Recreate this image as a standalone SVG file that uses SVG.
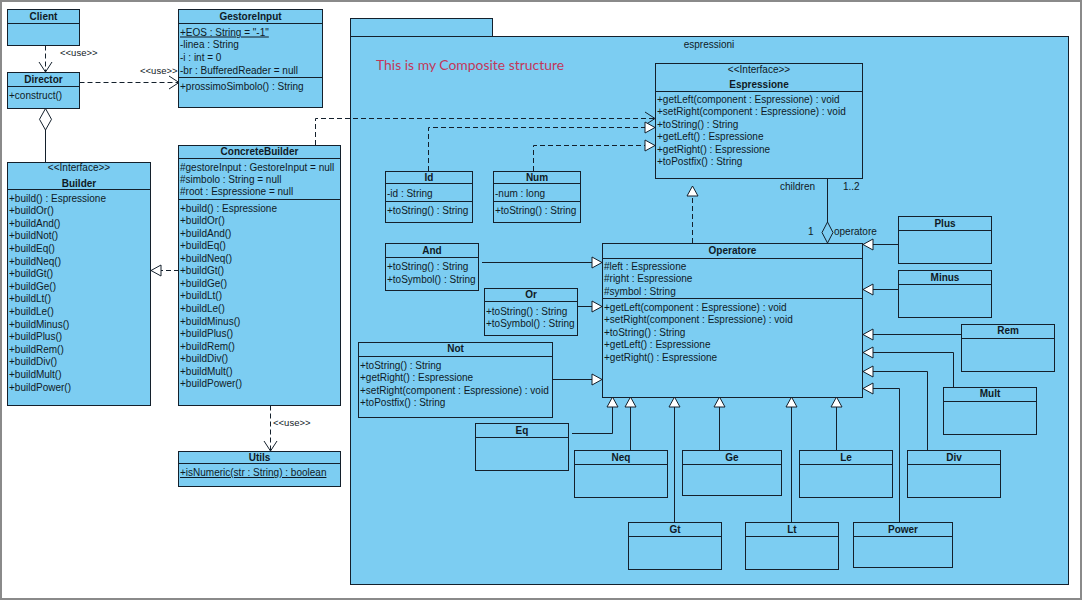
<svg xmlns="http://www.w3.org/2000/svg" width="1082" height="600" viewBox="0 0 1082 600">
<defs>
<style>
.box{fill:#7ccdf2;stroke:#14202c;stroke-width:1}
.ln{stroke:#14202c;stroke-width:1;fill:none}
.dash{stroke-dasharray:5 3}
.t{font-family:"Liberation Sans",Arial,sans-serif;font-size:10px;fill:#0f1a26}
.b{font-weight:bold;text-anchor:middle}
.c{text-anchor:middle}
.u{text-decoration:underline}
</style>
<marker id="tri" markerUnits="userSpaceOnUse" markerWidth="14" markerHeight="14" refX="11" refY="6.5" orient="auto">
<path d="M1,1 L11,6.5 L1,12 Z" fill="#ffffff" stroke="#14202c" stroke-width="1"/>
</marker>
<marker id="open" markerUnits="userSpaceOnUse" markerWidth="14" markerHeight="16" refX="11" refY="7.5" orient="auto">
<path d="M1,1 L11,7.5 L1,14" fill="none" stroke="#14202c" stroke-width="1"/>
</marker>
</defs>
<rect x="1" y="1" width="1080" height="598" fill="#ffffff" stroke="#8a8a8a" stroke-width="2"/>

<g id="pkg-espressioni">
<rect class="box" x="350.5" y="18.5" width="142" height="18"/>
<rect class="box" x="350.5" y="36.5" width="718" height="548"/>
<text class="t c" x="709" y="47.5">espressioni</text>
<text x="376" y="70" textLength="188" lengthAdjust="spacingAndGlyphs" style="font-family:Lato,'Open Sans',sans-serif;font-size:14px;fill:#c2375a">This is my Composite structure</text>
</g>

<g id="connectors">
<path class="ln dash" d="M45.5,45.5 V72" marker-end="url(#open)"/>
<text class="t" x="60" y="55.5" style="font-size:9.5px">&lt;&lt;use&gt;&gt;</text>
<path class="ln dash" d="M79.5,82.5 H179" marker-end="url(#open)"/>
<text class="t" x="140" y="74" style="font-size:9.5px">&lt;&lt;use&gt;&gt;</text>
<path class="ln" d="M45.5,130 V162"/>
<polygon points="45.5,108.5 51.5,119.3 45.5,130 39.5,119.3" fill="#ffffff" stroke="#14202c"/>
<path class="ln dash" d="M179,270.5 H151" marker-end="url(#tri)"/>
<path class="ln dash" d="M270.5,405.5 V451" marker-end="url(#open)"/>
<text class="t" x="273" y="425.5" style="font-size:9.5px">&lt;&lt;use&gt;&gt;</text>
<path class="ln dash" d="M315.5,145 V118.5 H655" marker-end="url(#open)"/>
<path class="ln dash" d="M428.5,171 V127.5 H655" marker-end="url(#tri)"/>
<path class="ln dash" d="M533.5,171 V145.5 H655" marker-end="url(#tri)"/>
<path class="ln dash" d="M692.5,243 V186" marker-end="url(#tri)"/>
<path class="ln" d="M827.5,178 V222"/>
<polygon points="827.5,222 833,232.5 827.5,243 822,232.5" fill="none" stroke="#14202c"/>
<text class="t" x="780" y="189.5">children</text>
<text class="t" x="843" y="189.5">1..2</text>
<text class="t" x="808" y="235">1</text>
<text class="t" x="834" y="235">operatore</text>
<path class="ln" d="M482,262.5 H602" marker-end="url(#tri)"/>
<path class="ln" d="M578,306.5 H602" marker-end="url(#tri)"/>
<path class="ln" d="M553,379.5 H602" marker-end="url(#tri)"/>
<path class="ln" d="M572,433.5 H612.5 V397" marker-end="url(#tri)"/>
<path class="ln" d="M630.5,450 V397" marker-end="url(#tri)"/>
<path class="ln" d="M674.5,522 V397" marker-end="url(#tri)"/>
<path class="ln" d="M719.5,450 V397" marker-end="url(#tri)"/>
<path class="ln" d="M791.5,522 V397" marker-end="url(#tri)"/>
<path class="ln" d="M836.5,450 V397" marker-end="url(#tri)"/>
<path class="ln" d="M898,244.5 H863" marker-end="url(#tri)"/>
<path class="ln" d="M898,289.5 H863" marker-end="url(#tri)"/>
<path class="ln" d="M961,334.5 H863" marker-end="url(#tri)"/>
<path class="ln" d="M953.5,387 V352.5 H863" marker-end="url(#tri)"/>
<path class="ln" d="M927.5,450 V371.5 H863" marker-end="url(#tri)"/>
<path class="ln" d="M899.5,522 V388.5 H863" marker-end="url(#tri)"/>
</g>

<g id="client">
<rect class="box" x="7.5" y="9.5" width="72" height="36"/>
<line class="ln" x1="7.5" y1="23.5" x2="79.5" y2="23.5"/>
<text class="t b" x="43.5" y="20">Client</text>
</g>

<g id="director">
<rect class="box" x="7.5" y="72.5" width="72" height="36"/>
<line class="ln" x1="7.5" y1="86.5" x2="79.5" y2="86.5"/>
<text class="t b" x="43.5" y="83">Director</text>
<text class="t" x="9" y="99">+construct()</text>
</g>

<g id="gestoreinput">
<rect class="box" x="178.5" y="9.5" width="144" height="98"/>
<line class="ln" x1="178.5" y1="23.5" x2="322.5" y2="23.5"/>
<line class="ln" x1="178.5" y1="77.5" x2="322.5" y2="77.5"/>
<text class="t b" x="250.5" y="20">GestoreInput</text>
<text class="t u" x="180" y="35.5">+EOS : String = "-1"</text>
<text class="t" x="180" y="48">-linea : String</text>
<text class="t" x="180" y="60.5">-i : int = 0</text>
<text class="t" x="180" y="73.5">-br : BufferedReader = null</text>
<text class="t" x="180" y="89.5">+prossimoSimbolo() : String</text>
</g>

<g id="builder">
<rect class="box" x="7.5" y="162.5" width="143" height="243"/>
<line class="ln" x1="7.5" y1="189.5" x2="150.5" y2="189.5"/>
<text class="t c" x="79" y="171">&lt;&lt;Interface&gt;&gt;</text>
<text class="t b" x="79" y="186.5">Builder</text>
<text class="t" x="9" y="201.5"><tspan x="9" dy="0">+build() : Espressione</tspan><tspan x="9" dy="12.6">+buildOr()</tspan><tspan x="9" dy="12.6">+buildAnd()</tspan><tspan x="9" dy="12.6">+buildNot()</tspan><tspan x="9" dy="12.6">+buildEq()</tspan><tspan x="9" dy="12.6">+buildNeq()</tspan><tspan x="9" dy="12.6">+buildGt()</tspan><tspan x="9" dy="12.6">+buildGe()</tspan><tspan x="9" dy="12.6">+buildLt()</tspan><tspan x="9" dy="12.6">+buildLe()</tspan><tspan x="9" dy="12.6">+buildMinus()</tspan><tspan x="9" dy="12.6">+buildPlus()</tspan><tspan x="9" dy="12.6">+buildRem()</tspan><tspan x="9" dy="12.6">+buildDiv()</tspan><tspan x="9" dy="12.6">+buildMult()</tspan><tspan x="9" dy="12.6">+buildPower()</tspan></text>
</g>

<g id="concretebuilder">
<rect class="box" x="178.5" y="145.5" width="162" height="260"/>
<line class="ln" x1="178.5" y1="158.5" x2="340.5" y2="158.5"/>
<line class="ln" x1="178.5" y1="199.5" x2="340.5" y2="199.5"/>
<text class="t b" x="259.5" y="155">ConcreteBuilder</text>
<text class="t" x="180" y="170.5">#gestoreInput : GestoreInput = null</text>
<text class="t" x="180" y="182.5">#simbolo : String = null</text>
<text class="t" x="180" y="195">#root : Espressione = null</text>
<text class="t" x="180" y="211.5"><tspan x="180" dy="0">+build() : Espressione</tspan><tspan x="180" dy="12.57">+buildOr()</tspan><tspan x="180" dy="12.57">+buildAnd()</tspan><tspan x="180" dy="12.57">+buildEq()</tspan><tspan x="180" dy="12.57">+buildNeq()</tspan><tspan x="180" dy="12.57">+buildGt()</tspan><tspan x="180" dy="12.57">+buildGe()</tspan><tspan x="180" dy="12.57">+buildLt()</tspan><tspan x="180" dy="12.57">+buildLe()</tspan><tspan x="180" dy="12.57">+buildMinus()</tspan><tspan x="180" dy="12.57">+buildPlus()</tspan><tspan x="180" dy="12.57">+buildRem()</tspan><tspan x="180" dy="12.57">+buildDiv()</tspan><tspan x="180" dy="12.57">+buildMult()</tspan><tspan x="180" dy="12.57">+buildPower()</tspan></text>
</g>

<g id="utils">
<rect class="box" x="178.5" y="451.5" width="162" height="35"/>
<line class="ln" x1="178.5" y1="463.5" x2="340.5" y2="463.5"/>
<text class="t b" x="259.5" y="461">Utils</text>
<text class="t u" x="180" y="476">+isNumeric(str : String) : boolean</text>
</g>

<g id="espressione">
<rect class="box" x="655.5" y="63.5" width="207" height="115"/>
<line class="ln" x1="655.5" y1="91.5" x2="862.5" y2="91.5"/>
<text class="t c" x="759" y="73">&lt;&lt;Interface&gt;&gt;</text>
<text class="t b" x="759" y="88">Espressione</text>
<text class="t" x="657" y="102.5"><tspan x="657" dy="0">+getLeft(component : Espressione) : void</tspan><tspan x="657" dy="12.5">+setRight(component : Espressione) : void</tspan><tspan x="657" dy="12.5">+toString() : String</tspan><tspan x="657" dy="12.5">+getLeft() : Espressione</tspan><tspan x="657" dy="12.5">+getRight() : Espressione</tspan><tspan x="657" dy="12.5">+toPostfix() : String</tspan></text>
</g>

<g id="id">
<rect class="box" x="385.5" y="171.5" width="87" height="51"/>
<line class="ln" x1="385.5" y1="183.5" x2="472.5" y2="183.5"/>
<line class="ln" x1="385.5" y1="201.5" x2="472.5" y2="201.5"/>
<text class="t b" x="429" y="181">Id</text>
<text class="t" x="387" y="196.5">-id : String</text>
<text class="t" x="387" y="213.5">+toString() : String</text>
</g>

<g id="num">
<rect class="box" x="493.5" y="171.5" width="87" height="51"/>
<line class="ln" x1="493.5" y1="183.5" x2="580.5" y2="183.5"/>
<line class="ln" x1="493.5" y1="201.5" x2="580.5" y2="201.5"/>
<text class="t b" x="537" y="181">Num</text>
<text class="t" x="495" y="196.5">-num : long</text>
<text class="t" x="495" y="213.5">+toString() : String</text>
</g>

<g id="operatore">
<rect class="box" x="602.5" y="243.5" width="260" height="154"/>
<line class="ln" x1="602.5" y1="258.5" x2="862.5" y2="258.5"/>
<line class="ln" x1="602.5" y1="298.5" x2="862.5" y2="298.5"/>
<text class="t b" x="732.5" y="254">Operatore</text>
<text class="t" x="604" y="269.5">#left : Espressione</text>
<text class="t" x="604" y="282">#right : Espressione</text>
<text class="t" x="604" y="294.5">#symbol : String</text>
<text class="t" x="604" y="310.5"><tspan x="604" dy="0">+getLeft(component : Espressione) : void</tspan><tspan x="604" dy="12.6">+setRight(component : Espressione) : void</tspan><tspan x="604" dy="12.6">+toString() : String</tspan><tspan x="604" dy="12.6">+getLeft() : Espressione</tspan><tspan x="604" dy="12.6">+getRight() : Espressione</tspan></text>
</g>

<g id="and">
<rect class="box" x="385.5" y="243.5" width="93" height="47"/>
<line class="ln" x1="385.5" y1="257.5" x2="478.5" y2="257.5"/>
<text class="t b" x="432" y="253.5">And</text>
<text class="t" x="387" y="269.5">+toString() : String</text>
<text class="t" x="387" y="282.5">+toSymbol() : String</text>
</g>

<g id="or">
<rect class="box" x="484.5" y="288.5" width="93" height="47"/>
<line class="ln" x1="484.5" y1="301.5" x2="577.5" y2="301.5"/>
<text class="t b" x="531" y="297.5">Or</text>
<text class="t" x="486" y="314.5">+toString() : String</text>
<text class="t" x="486" y="327">+toSymbol() : String</text>
</g>

<g id="not">
<rect class="box" x="358.5" y="342.5" width="194" height="75"/>
<line class="ln" x1="358.5" y1="356.5" x2="552.5" y2="356.5"/>
<text class="t b" x="455.5" y="352">Not</text>
<text class="t" x="360" y="368.5">+toString() : String</text>
<text class="t" x="360" y="381">+getRight() : Espressione</text>
<text class="t" x="360" y="393.5">+setRight(component : Espressione) : void</text>
<text class="t" x="360" y="406">+toPostfix() : String</text>
</g>

<g id="eq">
<rect class="box" x="475.5" y="423.5" width="93" height="47"/>
<line class="ln" x1="475.5" y1="437.5" x2="568.5" y2="437.5"/>
<text class="t b" x="522" y="434">Eq</text>
</g>
<g id="neq">
<rect class="box" x="574.5" y="450.5" width="93" height="47"/>
<line class="ln" x1="574.5" y1="464.5" x2="667.5" y2="464.5"/>
<text class="t b" x="621" y="461">Neq</text>
</g>
<g id="ge">
<rect class="box" x="682.5" y="450.5" width="99" height="45"/>
<line class="ln" x1="682.5" y1="464.5" x2="781.5" y2="464.5"/>
<text class="t b" x="732" y="461">Ge</text>
</g>
<g id="le">
<rect class="box" x="799.5" y="450.5" width="93" height="47"/>
<line class="ln" x1="799.5" y1="464.5" x2="892.5" y2="464.5"/>
<text class="t b" x="846" y="461">Le</text>
</g>
<g id="gt">
<rect class="box" x="628.5" y="522.5" width="93" height="47"/>
<line class="ln" x1="628.5" y1="536.5" x2="721.5" y2="536.5"/>
<text class="t b" x="675" y="533">Gt</text>
</g>
<g id="lt">
<rect class="box" x="745.5" y="522.5" width="93" height="47"/>
<line class="ln" x1="745.5" y1="536.5" x2="838.5" y2="536.5"/>
<text class="t b" x="792" y="533">Lt</text>
</g>
<g id="power">
<rect class="box" x="853.5" y="522.5" width="99" height="45"/>
<line class="ln" x1="853.5" y1="536.5" x2="952.5" y2="536.5"/>
<text class="t b" x="903" y="533">Power</text>
</g>
<g id="plus">
<rect class="box" x="898.5" y="216.5" width="93" height="47"/>
<line class="ln" x1="898.5" y1="230.5" x2="991.5" y2="230.5"/>
<text class="t b" x="945" y="227">Plus</text>
</g>
<g id="minus">
<rect class="box" x="898.5" y="270.5" width="93" height="47"/>
<line class="ln" x1="898.5" y1="284.5" x2="991.5" y2="284.5"/>
<text class="t b" x="945" y="281">Minus</text>
</g>
<g id="rem">
<rect class="box" x="961.5" y="324.5" width="93" height="47"/>
<line class="ln" x1="961.5" y1="338.5" x2="1054.5" y2="338.5"/>
<text class="t b" x="1008" y="334">Rem</text>
</g>
<g id="mult">
<rect class="box" x="943.5" y="387.5" width="93" height="47"/>
<line class="ln" x1="943.5" y1="401.5" x2="1036.5" y2="401.5"/>
<text class="t b" x="990" y="397">Mult</text>
</g>
<g id="div">
<rect class="box" x="907.5" y="450.5" width="93" height="47"/>
<line class="ln" x1="907.5" y1="464.5" x2="1000.5" y2="464.5"/>
<text class="t b" x="954" y="461">Div</text>
</g>
</svg>
